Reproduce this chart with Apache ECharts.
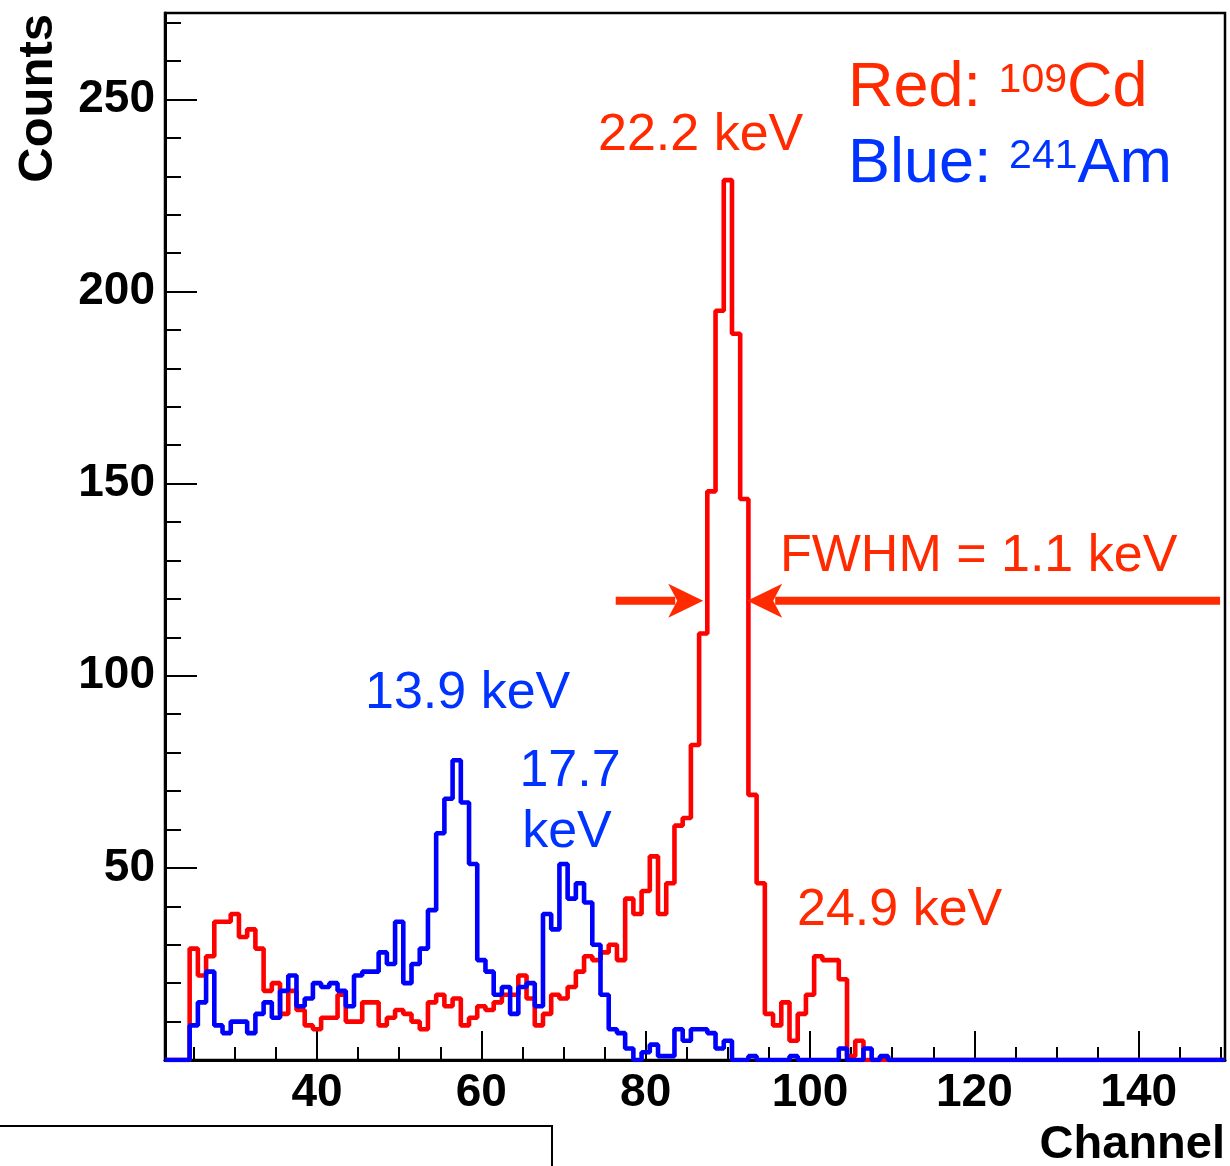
<!DOCTYPE html>
<html><head><meta charset="utf-8">
<script src="https://cdn.jsdelivr.net/npm/echarts@6/dist/echarts.min.js"></script>
<style>html,body{margin:0;padding:0;background:#fff}#c{width:1230px;height:1166px}</style>
</head><body><div id="c"></div>
<script>
// ---------- data ----------
const channels = [22,23,24,25,26,27,28,29,30,31,32,33,34,35,36,37,38,39,40,41,42,43,44,45,46,47,48,49,50,51,52,53,54,55,56,57,58,59,60,61,62,63,64,65,66,67,68,69,70,71,72,73,74,75,76,77,78,79,80,81,82,83,84,85,86,87,88,89,90,91,92,93,94,95,96,97,98,99,100,101,102,103,104,105,106,107,108,109,110,111,112,113,114,115,116,117,118,119,120,121,122,123,124,125,126,127,128,129,130,131,132,133,134,135,136,137,138,139,140,141,142,143,144,145,146,147,148,149,150];
// Red: 109Cd
const redCounts = [0,0,0,29,22,27,36,36,38,32,34,29,18,20,12,18,13,9,8,11,11,17,10,10,15,15,9,11,13,12,10,8,15,17,14,16,9,11,14,13,15,17,17,22,16,9,12,17,16,19,23,27,26,28,30,26,42,38,44,53,38,46,61,63,82,111,148,195,229,189,146,69,46,12,9,15,5,12,17,27,26,26,21,1,5,
  0,0,0,0,0,0,0,0,0,0,0,0,0,0,0,0,0,0,0,0,0,0,0,0,0,0,0,0,0,0,0,0,0,0,0,0,0,0,0,0,0,0,0,0];
// Blue: 241Am
const blueCounts = [0,0,0,9,15,23,9,7,10,10,7,12,15,11,18,22,14,16,20,19,20,18,14,22,23,23,28,25,36,20,25,29,39,59,68,78,67,51,26,23,17,19,12,19,20,14,38,34,51,42,46,41,30,17,8,7,3,0,2,4,1,1,8,5,8,8,7,3,5,0,0,1,0,0,0,0,1,0,0,0,0,0,3,0,0,3,0,1,
  0,0,0,0,0,0,0,0,0,0,0,0,0,0,0,0,0,0,0,0,0,0,0,0,0,0,0,0,0,0,0,0,0,0,0,0,0,0,0,0,0];
const xMajorTicks = [40,60,80,100,120,140];
const xMinorTicks = [25,30,35,45,50,55,65,70,75,85,90,95,105,110,115,125,130,135,145,150];
const yMajorTicks = [0,50,100,150,200,250];
const yLabels = [50,100,150,200,250];
const yMinorTicks = [10,20,30,40,60,70,80,90,110,120,130,140,160,170,180,190,210,220,230,240,260,270];

// ---------- helpers ----------
const FONT = "'Liberation Sans', Arial, Helvetica, sans-serif";
const RED_TXT = '#ff2a00';
const BLUE_TXT = '#0033ff';
const binWidth = 1;
function histData(counts) {
  const d = channels.map((c, i) => [c - binWidth / 2, counts[i]]);
  d.push([channels[channels.length - 1] + binWidth / 2, counts[counts.length - 1]]);
  return d;
}
const mctx = document.createElement('canvas').getContext('2d');
function measure(text, size, weight) {
  mctx.font = (weight || 'normal') + ' ' + size + 'px ' + FONT;
  return mctx.measureText(text).width;
}
function txt(text, x, y, size, color, align, weight, rotation) {
  const el = {
    type: 'text', x: x, y: y, silent: true, z: 50,
    style: {
      text: text, fill: color, fontSize: size, fontFamily: FONT, fontWeight: weight || 'normal',
      align: align || 'left', textAlign: align || 'left',
      verticalAlign: 'middle', textVerticalAlign: 'middle'
    }
  };
  if (rotation) el.rotation = rotation;
  return el;
}

const chart = echarts.init(document.getElementById('c'), null, { renderer: 'canvas' });
const axisCommon = { min: 21.5, max: 150.5, type: 'value', position: 'bottom', splitLine: { show: false } };
const yCommon = { min: 0, max: 272.5, type: 'value', position: 'left', splitLine: { show: false } };

const option = {
  animation: false,
  backgroundColor: '#ffffff',
  grid: { left: 165, right: 5, top: 13, bottom: 106, show: true, borderColor: '#000', borderWidth: 2.5, backgroundColor: 'transparent' },
  xAxis: [
    Object.assign({}, axisCommon, {
      axisLine: { show: true, onZero: false, lineStyle: { color: '#000', width: 3 } },
      axisTick: { show: true, inside: true, length: 29, customValues: xMajorTicks, lineStyle: { color: '#000', width: 2 } },
      axisLabel: { show: true, customValues: xMajorTicks, margin: 10, color: '#000', fontSize: 46, fontWeight: 'bold', fontFamily: FONT }
    }),
    Object.assign({}, axisCommon, {
      axisLine: { show: false, onZero: false },
      axisTick: { show: true, inside: true, length: 13, customValues: xMinorTicks, lineStyle: { color: '#000', width: 2 } },
      axisLabel: { show: false }
    })
  ],
  yAxis: [
    Object.assign({}, yCommon, {
      axisLine: { show: true, onZero: false, lineStyle: { color: '#000', width: 3 } },
      axisTick: { show: true, inside: true, length: 32, customValues: yMajorTicks, lineStyle: { color: '#000', width: 2 } },
      axisLabel: { show: true, customValues: yLabels, margin: 10, padding: [4, 0, 0, 0], color: '#000', fontSize: 46, fontWeight: 'bold', fontFamily: FONT }
    }),
    Object.assign({}, yCommon, {
      axisLine: { show: false, onZero: false },
      axisTick: { show: true, inside: true, length: 16, customValues: yMinorTicks, lineStyle: { color: '#000', width: 2 } },
      axisLabel: { show: false }
    })
  ],
  series: [
    { name: 'Red: 109Cd', type: 'line', step: 'end', xAxisIndex: 0, yAxisIndex: 0, data: histData(redCounts),
      showSymbol: false, symbol: 'none', lineStyle: { color: '#ff0000', width: 4.6 }, itemStyle: { color: '#ff0000' }, z: 3 },
    { name: 'Blue: 241Am', type: 'line', step: 'end', xAxisIndex: 0, yAxisIndex: 0, data: histData(blueCounts),
      showSymbol: false, symbol: 'none', lineStyle: { color: '#0000ff', width: 4.6 }, itemStyle: { color: '#0000ff' }, z: 4 }
  ]
};
chart.setOption(option);

// ---------- annotations ----------
const fwhmLevel = 119.5;   // counts at arrow level
const fwhmLeft = 87.0, fwhmRight = 92.35, arrowFromL = 76.35, arrowFromR = 149.9;
const pL = chart.convertToPixel({ gridIndex: 0 }, [fwhmLeft, fwhmLevel]);
const pR = chart.convertToPixel({ gridIndex: 0 }, [fwhmRight, fwhmLevel]);
const sL = chart.convertToPixel({ gridIndex: 0 }, [arrowFromL, fwhmLevel]);
const sR = chart.convertToPixel({ gridIndex: 0 }, [arrowFromR, fwhmLevel]);
const AL = 35, AW = 17, AN = 26;
function arrow(tip, start, dir) { // dir = +1 pointing right, -1 pointing left
  const tx = tip[0], ty = tip[1];
  return [
    { type: 'line', silent: true, z: 40, shape: { x1: start[0], y1: ty, x2: tx - dir * (AN + 2), y2: ty }, style: { stroke: RED_TXT, lineWidth: 8 } },
    { type: 'polygon', silent: true, z: 41, shape: { points: [[tx, ty], [tx - dir * AL, ty - AW], [tx - dir * AN, ty], [tx - dir * AL, ty + AW]] }, style: { fill: RED_TXT } }
  ];
}

const big = 63, sup = 41;
const supOff = big * 0.716 / 2 - sup * 0.716 / 2;
const x0 = 848;
const wRed = measure('Red: ', big), w109 = measure('109', sup);
const wBlue = measure('Blue: ', big), w241 = measure('241', sup);
const yRed = 89, yBlue = 165;

const graphics = [].concat(
  arrow(pL, sL, 1), arrow(pR, sR, -1),
  [
    txt('Red: ', x0, yRed, big, RED_TXT),
    txt('109', x0 + wRed, yRed - supOff, sup, RED_TXT),
    txt('Cd', x0 + wRed + w109, yRed, big, RED_TXT),
    txt('Blue: ', x0, yBlue, big, BLUE_TXT),
    txt('241', x0 + wBlue, yBlue - supOff, sup, BLUE_TXT),
    txt('Am', x0 + wBlue + w241, yBlue, big, BLUE_TXT),
    txt('22.2 keV', 598, 136, 52, RED_TXT),
    txt('FWHM = 1.1 keV', 780, 557, 52, RED_TXT),
    txt('13.9 keV', 365, 694, 52, BLUE_TXT),
    txt('17.7', 570, 772, 52, BLUE_TXT, 'center'),
    txt('keV', 567, 833, 52, BLUE_TXT, 'center'),
    txt('24.9 keV', 797, 911, 52, RED_TXT),
    txt('Channel', 1225, 1145, 47, '#000', 'right', 'bold'),
    txt('Counts', 38, 14, 49, '#000', 'right', 'bold', Math.PI / 2),
    { type: 'polyline', silent: true, z: 30, shape: { points: [[0, 1126], [552, 1126], [552, 1166]] }, style: { stroke: '#000', lineWidth: 2, fill: null } }
  ]
);
chart.setOption({ graphic: { elements: graphics } });
</script>
</body></html>
